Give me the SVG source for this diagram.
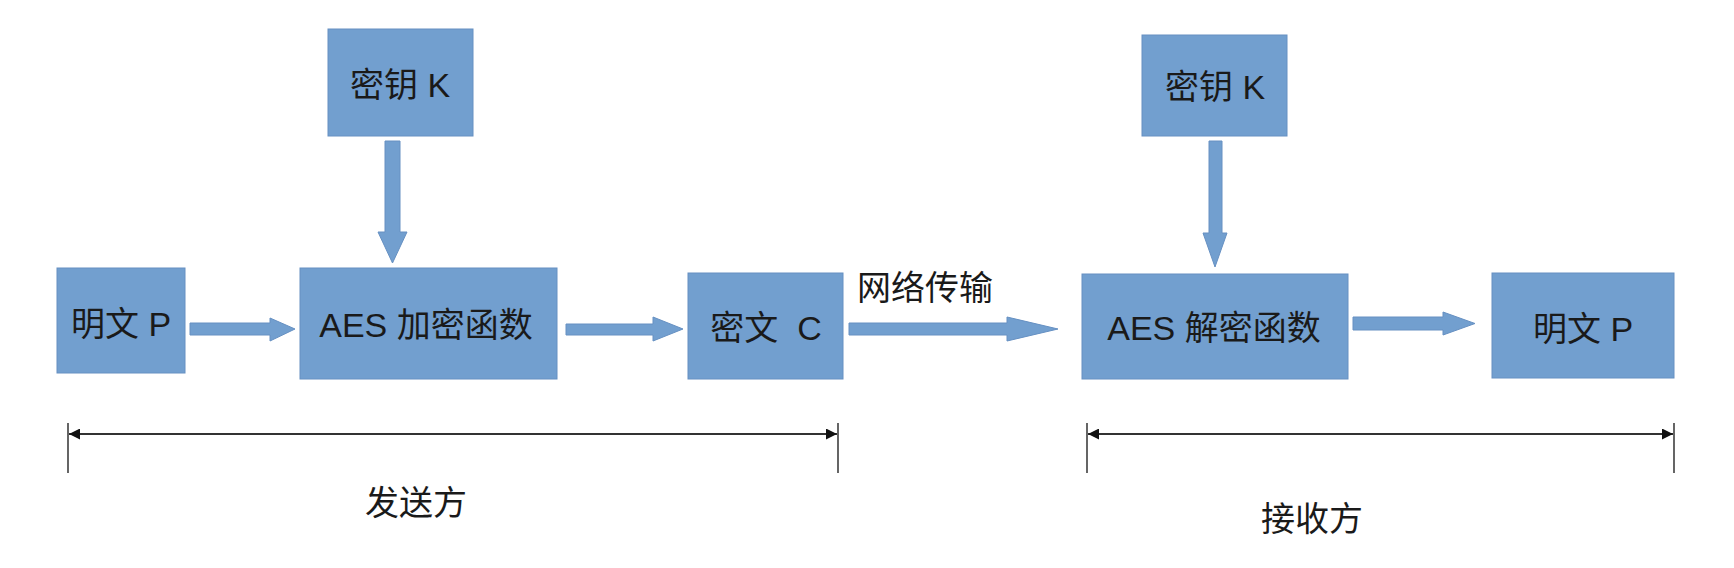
<svg xmlns="http://www.w3.org/2000/svg" width="1734" height="568" viewBox="0 0 1734 568">
  <style>
    .box { fill: #729fcf; stroke: #6690c2; stroke-width: 1; }
    .blk { fill: #729fcf; stroke: #6690c2; stroke-width: 1; stroke-linejoin: miter; }
    .t { font-family: "Liberation Sans", "Noto Sans CJK SC", sans-serif; font-size: 34px; fill: #1a1a1a; }
    .c { text-anchor: middle; }
    .dim { stroke: #333333; stroke-width: 1.8; fill: none; }
    .tick { stroke: #555555; stroke-width: 1.8; }
  </style>
  <defs>
    <marker id="ah" viewBox="0 0 10 10" refX="10" refY="5" markerWidth="16" markerHeight="11" markerUnits="userSpaceOnUse" orient="auto-start-reverse">
      <path d="M0,0 L10,5 L0,10 Z" fill="#111111"/>
    </marker>
  </defs>
  <rect width="1734" height="568" fill="#ffffff"/>

  <g id="connectors">
    <polygon class="blk" points="190,323 270,323 270,318 295,329 270,341 270,335 190,335"/>
    <polygon class="blk" points="385,141 400,141 400,232 407,232 392.5,263 378,232 385,232"/>
    <polygon class="blk" points="566,324 653,324 653,317 683,329 653,341 653,335 566,335"/>
    <polygon class="blk" points="849,323 1007,323 1007,317 1058,329 1007,341 1007,335 849,335"/>
    <polygon class="blk" points="1209,141 1222,141 1222,233 1227,233 1215,267 1203,233 1209,233"/>
    <polygon class="blk" points="1353,317 1443,317 1443,312 1475,323.5 1443,335 1443,330 1353,330"/>
    <text class="t" x="857" y="300">网络传输</text>
  </g>

  <g id="node-plain-left">
    <rect class="box" x="57" y="268" width="128" height="105"/>
    <text class="t c" x="121" y="336">明文 P</text>
  </g>
  <g id="node-key-left">
    <rect class="box" x="328" y="29" width="145" height="107"/>
    <text class="t c" x="400" y="97">密钥 K</text>
  </g>
  <g id="node-encrypt">
    <rect class="box" x="300" y="268" width="257" height="111"/>
    <text class="t c" x="426" y="337">AES 加密函数</text>
  </g>
  <g id="node-cipher">
    <rect class="box" x="688" y="273" width="155" height="106"/>
    <text class="t c" x="766" y="340" xml:space="preserve">密文  C</text>
  </g>
  <g id="node-key-right">
    <rect class="box" x="1142" y="35" width="145" height="101"/>
    <text class="t c" x="1215" y="99">密钥 K</text>
  </g>
  <g id="node-decrypt">
    <rect class="box" x="1082" y="274" width="266" height="105"/>
    <text class="t c" x="1214" y="340">AES 解密函数</text>
  </g>
  <g id="node-plain-right">
    <rect class="box" x="1492" y="273" width="182" height="105"/>
    <text class="t c" x="1583" y="341">明文 P</text>
  </g>

  <g id="sender-span">
    <line class="tick" x1="68" y1="423" x2="68" y2="473"/>
    <line class="tick" x1="838" y1="423" x2="838" y2="473"/>
    <line class="dim" x1="69" y1="434" x2="837" y2="434" marker-start="url(#ah)" marker-end="url(#ah)"/>
    <text class="t c" x="416" y="515">发送方</text>
  </g>
  <g id="receiver-span">
    <line class="tick" x1="1087" y1="423" x2="1087" y2="473"/>
    <line class="tick" x1="1674" y1="423" x2="1674" y2="473"/>
    <line class="dim" x1="1088" y1="434" x2="1673" y2="434" marker-start="url(#ah)" marker-end="url(#ah)"/>
    <text class="t c" x="1312" y="531">接收方</text>
  </g>
</svg>
